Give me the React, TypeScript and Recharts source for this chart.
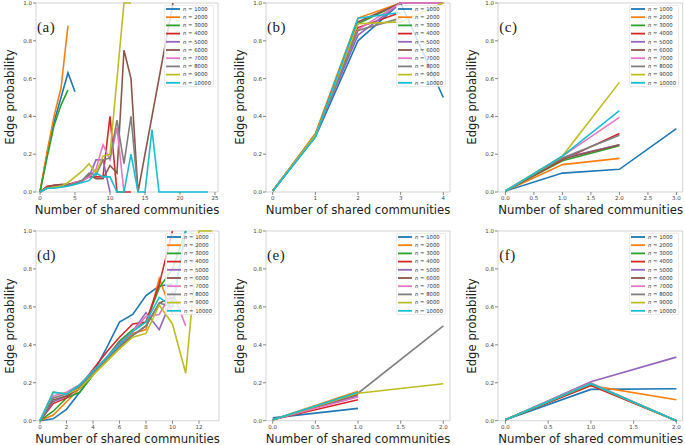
import React from 'react';
import { LineChart, Line, XAxis, YAxis, ReferenceArea } from 'recharts';

// network sizes shown in every legend
const sizes = [1000, 2000, 3000, 4000, 5000, 6000, 7000, 8000, 9000, 10000];
const colors = ['#1f77b4', '#ff7f0e', '#2ca02c', '#d62728', '#9467bd', '#8c564b', '#e377c2', '#7f7f7f', '#bcbd22', '#17becf'];

// edge probability, index = number of shared communities (null = no value)
const probA: (number | null)[][] = [
  [0, 0.2, 0.37, 0.5, 0.63, 0.53],
  [0, 0.21, 0.4, 0.55, 0.88],
  [0, 0.18, 0.35, 0.46, 0.54],
  [0, 0.03, 0.035, 0.04, 0.04, 0.05, 0.06, 0.08, 0.08, 0.08, 0.4, 0, 0, 0],
  [0, 0.02, 0.03, 0.03, 0.035, 0.045, 0.06, 0.08, 0.17, 0.17, 0],
  [0, 0.025, 0.035, 0.04, 0.04, 0.05, 0.06, 0.09, 0.07, 0.07, 0.14, 0.1, 0.75, 0.6, 0, null, null, null, null, 1.0],
  [0, 0.02, 0.025, 0.03, 0.035, 0.05, 0.06, 0.08, 0.12, 0.25, 0.17, 0.34, 0],
  [0, 0.02, 0.025, 0.03, 0.035, 0.045, 0.06, 0.1, 0.09, 0.17, 0.18, 0.38, 0.15, 0.4, 0],
  [0, 0.02, 0.025, 0.03, 0.05, 0.08, 0.11, 0.15, 0.1, 0.19, 0.2, null, 1.0, 1.0],
  [0, 0.02, 0.02, 0.025, 0.03, 0.04, 0.05, 0.06, 0.1, 0.08, 0.08, 0, 0, 0.2, 0, 0, 0.33, 0, 0, 0, 0, 0, 0, 0, 0],
];

const probB: (number | null)[][] = [
  [0.005, 0.29, 0.8, 1.0, 0.5],
  [0.005, 0.31, 0.92, 1.0, 1.0],
  [0.005, 0.3, 0.89, 1.0],
  [0.005, 0.3, 0.87, 0.95],
  [0.005, 0.3, 0.83, 1.0, 1.0],
  [0.005, 0.3, 0.9, 1.0],
  [0.005, 0.3, 0.86, 1.0, 1.0],
  [0.005, 0.3, 0.855, 0.92],
  [0.005, 0.3, 0.89, 0.9, 1.0],
  [0.005, 0.29, 0.92, 0.95],
];

const probC: (number | null)[][] = [
  [0.005, 0.1, 0.12, 0.335],
  [0.005, 0.145, 0.178],
  [0.005, 0.165, 0.245],
  [0.005, 0.17, 0.31],
  [0.005, 0.18, 0.25],
  [0.005, 0.175, 0.25],
  [0.005, 0.19, 0.395],
  [0.005, 0.18, 0.3],
  [0.005, 0.19, 0.58],
  [0.005, 0.19, 0.43],
];

const probD: (number | null)[][] = [
  [0, 0.01, 0.06, 0.15, 0.25, 0.38, 0.52, 0.56, 0.66, 0.71, 0.72],
  [0, 0.03, 0.1, 0.17, 0.25, 0.31, 0.4, 0.46, 0.48, 0.75, 0.56],
  [0, 0.05, 0.12, 0.15, 0.24, 0.33, 0.42, 0.48, 0.52, 0.7, 0.8, 1.0],
  [0, 0.09, 0.12, 0.18, 0.27, 0.36, 0.44, 0.51, 0.52, 0.72, 1.0],
  [0, 0.1, 0.13, 0.18, 0.26, 0.33, 0.41, 0.47, 0.57, 0.48, 0.65],
  [0, 0.11, 0.13, 0.17, 0.25, 0.32, 0.39, 0.45, 0.5, 0.62, 0.65],
  [0, 0.13, 0.15, 0.19, 0.26, 0.33, 0.4, 0.47, 0.55, 0.56, 0.68, 0.5],
  [0, 0.12, 0.14, 0.18, 0.25, 0.32, 0.38, 0.45, 0.5, 0.62, 0.6, 1.0],
  [0, 0.15, 0.14, 0.17, 0.24, 0.31, 0.38, 0.44, 0.46, 0.61, 0.51, 0.25, 1.0, 1.0],
  [0, 0.15, 0.14, 0.19, 0.26, 0.33, 0.4, 0.47, 0.52, 0.65, 0.6, 1.0],
];

const probE: (number | null)[][] = [
  [0.015, 0.065],
  [0.005, 0.155],
  [0.005, 0.14],
  [0.005, 0.11],
  [0.005, 0.13],
  [0.005, 0.14],
  [0.005, 0.125],
  [0.005, 0.145, 0.5],
  [0.005, 0.145, 0.195],
  [0.005, 0.15],
];

const probF: (number | null)[][] = [
  [0.005, 0.165, 0.168],
  [0.005, 0.185, 0.11],
  [0.005, 0.19, 0],
  [0.005, 0.185, 0],
  [0.005, 0.205, 0.335],
  [0.005, 0.195, 0],
  [0.005, 0.2, 0],
  [0.005, 0.195, 0],
  [0.005, 0.195, 0],
  [0.005, 0.195, 0],
];

const yTicks = [0, 0.2, 0.4, 0.6, 0.8, 1];
const ticksA = [0, 5, 10, 15, 20, 25];
const ticksB = [0, 1, 2, 3, 4];
const ticksC = [0, 0.5, 1, 1.5, 2, 2.5, 3];
const ticksD = [0, 2, 4, 6, 8, 10, 12];
const ticksE = [0, 0.5, 1, 1.5, 2];
const ticksF = [0, 0.5, 1, 1.5, 2];

type Panel = {
  letter: string;
  probs: (number | null)[][];
  ticks: number[];
  decimals: number;
  domain: [number, number];
  frame: [number, number, number, number]; // left, right, top, bottom
};

const panels: Panel[] = [
  { letter: '(a)', probs: probA, ticks: ticksA, decimals: 0, domain: [-0.57, 25.43], frame: [36, 218, 2.7, 191.7] },
  { letter: '(b)', probs: probB, ticks: ticksB, decimals: 0, domain: [-0.157, 4.157], frame: [266, 450, 2.7, 191.7] },
  { letter: '(c)', probs: probC, ticks: ticksC, decimals: 1, domain: [-0.13, 3.11], frame: [498.3, 683, 2.7, 191.7] },
  { letter: '(d)', probs: probD, ticks: ticksD, decimals: 0, domain: [-0.3, 13.51], frame: [36, 219, 231, 420.7] },
  { letter: '(e)', probs: probE, ticks: ticksE, decimals: 1, domain: [-0.079, 2.078], frame: [266, 450, 231, 420.7] },
  { letter: '(f)', probs: probF, ticks: ticksF, decimals: 1, domain: [-0.087, 2.074], frame: [498.3, 683, 231, 420.7] },
];

const font = 'DejaVu Sans';
const tickStyle = { fontSize: 5.5, fill: '#444', fontFamily: font };

const YW = 30;
const MT = 6;
const MR = 4;
const HX = 14;
const LEG_W = 50;
const LEG_H = 82;

const toPoints = (vals: (number | null)[]) =>
  vals.map((v, x) => (v == null ? null : { x, y: v })).filter((p): p is { x: number; y: number } => p !== null);

const Legend10: React.FC = () => (
  <svg width={LEG_W} height={LEG_H} style={{ display: 'block' }}>
    <rect x={0.3} y={0.3} width={LEG_W - 0.6} height={LEG_H - 0.6} rx={2} fill="#fff" fillOpacity={0.8} stroke="#d8d8d8" strokeWidth={0.6} />
    {sizes.map((n, i) => {
      const cy = 4 + i * 8.2;
      return (
        <g key={n}>
          <line x1={2} x2={16} y1={cy} y2={cy} stroke={colors[i]} strokeWidth={1.8} />
          <text x={19} y={cy} dy="0.35em" fontSize={5.3} fill="#333" fontFamily={font}>
            <tspan fontStyle="italic">n</tspan> = {n}
          </text>
        </g>
      );
    })}
  </svg>
);

const PanelChart: React.FC<{ p: Panel }> = ({ p }) => {
  const [fl, fr, ft, fb] = p.frame;
  const w = YW + (fr - fl) + MR;
  const h = MT + (fb - ft) + HX;
  return (
    <>
      <div style={{ position: 'absolute', left: fl - YW, top: ft - MT }}>
        <LineChart width={w} height={h} margin={{ top: MT, right: MR, bottom: 0, left: 0 }}>
          <XAxis
            dataKey="x"
            type="number"
            domain={p.domain}
            ticks={p.ticks}
            interval={0}
            height={HX}
            tickSize={3}
            tickMargin={1.5}
            axisLine={false}
            tickLine={{ stroke: '#555', strokeWidth: 0.7 }}
            tick={tickStyle}
            tickFormatter={(v: number) => v.toFixed(p.decimals)}
          />
          <YAxis
            type="number"
            domain={[0, 1]}
            ticks={yTicks}
            interval={0}
            width={YW}
            tickSize={3}
            tickMargin={1}
            axisLine={false}
            tickLine={{ stroke: '#555', strokeWidth: 0.7 }}
            tick={tickStyle}
            tickFormatter={(v: number) => v.toFixed(1)}
          />
          {p.probs.map((vals, i) => (
            <Line
              key={sizes[i]}
              data={toPoints(vals)}
              dataKey="y"
              type="linear"
              stroke={colors[i]}
              strokeWidth={1.6}
              dot={false}
              activeDot={false}
              isAnimationActive={false}
            />
          ))}
          <ReferenceArea
            x1={p.domain[0]}
            x2={p.domain[1]}
            y1={0}
            y2={1}
            fill="none"
            stroke="#c8c8c8"
            strokeWidth={0.8}
            ifOverflow="visible"
          />
        </LineChart>
      </div>
      {/* x axis label */}
      <div
        style={{
          position: 'absolute',
          left: fl - 20,
          width: fr - fl + 40,
          top: fb + 13,
          fontSize: 11.7,
          lineHeight: '11px',
          textAlign: 'center',
          color: '#222',
          fontFamily: font,
          whiteSpace: 'nowrap',
        }}
      >
        Number of shared communities
      </div>
      {/* y axis label */}
      <div
        style={{
          position: 'absolute',
          left: fl - 26.5 - 100,
          width: 200,
          top: (ft + fb) / 2 - 7,
          height: 14,
          fontSize: 11.7,
          lineHeight: '14px',
          textAlign: 'center',
          color: '#222',
          fontFamily: font,
          transform: 'rotate(-90deg)',
          whiteSpace: 'nowrap',
        }}
      >
        Edge probability
      </div>
      {/* panel letter */}
      <div
        style={{
          position: 'absolute',
          left: fl + 1,
          top: ft + 16,
          fontSize: 15,
          lineHeight: '16px',
          fontFamily: 'Liberation Serif',
          color: '#222',
          letterSpacing: 0.5,
        }}
      >
        {p.letter}
      </div>
      {/* legend */}
      <div style={{ position: 'absolute', left: fr - 4.5 - LEG_W, top: ft + 2.3 }}>
        <Legend10 />
      </div>
    </>
  );
};

export default function App() {
  return (
    <div
      style={{
        position: 'absolute',
        left: 0,
        top: 0,
        width: 685,
        height: 445,
        background: '#fff',
        overflow: 'hidden',
        fontFamily: font,
      }}
    >
      {panels.map((p) => (
        <PanelChart key={p.letter} p={p} />
      ))}
    </div>
  );
}
